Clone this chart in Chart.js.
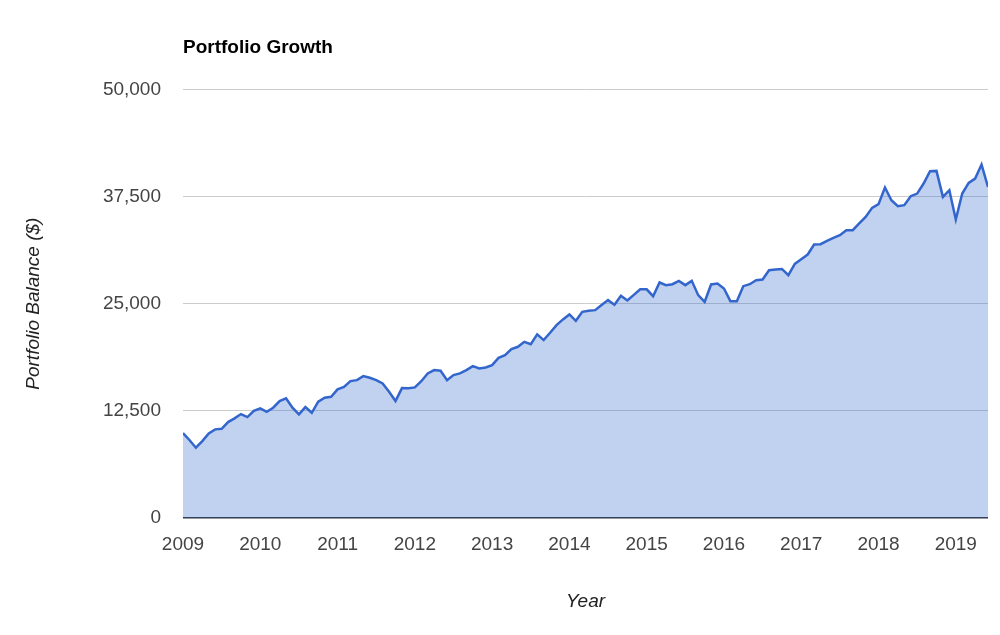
<!DOCTYPE html>
<html>
<head>
<meta charset="utf-8">
<script src="https://cdn.jsdelivr.net/npm/chart.js@4/dist/chart.umd.min.js"></script>
<style>
  html, body { margin: 0; padding: 0; background: #fff; }
  #wrap { width: 1000px; height: 635px; }
</style>
</head>
<body>
<div id="wrap"><canvas id="myChart" width="1000" height="635"></canvas></div>
<script>
// monthly portfolio balance, Jan 2009 .. Jun 2019
const startYear = 2009;
const balances = [
  9900, 9100, 8200, 8970, 9870, 10340, 10410, 11190, 11620, 12120, 11770, 12500,
  12790, 12390, 12860, 13640, 13950, 12860, 12090, 12940, 12270, 13560, 14020, 14140,
  15000, 15300, 15970, 16080, 16550, 16350, 16080, 15700, 14720, 13640, 15150, 15120,
  15230, 15950, 16860, 17250, 17170, 16080, 16670, 16860, 17250, 17720, 17450, 17560,
  17830, 18680, 19000, 19700, 19970, 20550, 20280, 21410, 20750, 21600, 22490, 23160,
  23740, 23000, 24040, 24160, 24240, 24830, 25410, 24870, 25930, 25370, 26030, 26670,
  26670, 25870, 27470, 27160, 27270, 27660, 27160, 27660, 25990, 25210, 27240, 27350,
  26770, 25290, 25290, 27040, 27270, 27740, 27820, 28900, 28980, 29050, 28320, 29640,
  30190, 30730, 31900, 31930, 32320, 32670, 32980, 33570, 33570, 34350, 35120, 36170,
  36600, 38540, 37060, 36360, 36480, 37530, 37840, 39010, 40440, 40480, 37450, 38230,
  34810, 37840, 39080, 39590, 41220, 38610
];
const yearTicks = [2009, 2010, 2011, 2012, 2013, 2014, 2015, 2016, 2017, 2018, 2019];
const balanceTicks = [0, 12500, 25000, 37500, 50000];

const points = balances.map((v, i) => ({ x: startYear + i / 12, y: v }));
const font = 'Arial, "Liberation Sans", sans-serif';

const ctx = document.getElementById('myChart');

new Chart(ctx, {
  type: 'line',
  data: {
    datasets: [{
      data: points,
      borderColor: '#3366cc',
      backgroundColor: 'rgba(51, 102, 204, 0.3)',
      borderWidth: 2.5,
      pointRadius: 0,
      tension: 0,
      fill: 'origin',
    }],
  },
  options: {
    responsive: false,
    animation: false,
    layout: { padding: { left: 10, right: 12, top: 0, bottom: 0 } },
    scales: {
      x: {
        type: 'linear',
        min: startYear,
        max: startYear + (balances.length - 1) / 12,
        afterBuildTicks: (scale) => { scale.ticks = yearTicks.map(v => ({ value: v })); },
        afterFit: (scale) => { scale.height = 117; },
        grid: { display: false, drawTicks: false },
        border: { display: false },
        ticks: {
          autoSkip: false,
          maxRotation: 0,
          padding: 15,
          color: '#444',
          font: { family: font, size: 19 },
          callback: (v) => String(v),
        },
        title: {
          display: true,
          text: 'Year',
          color: '#222',
          font: { family: font, size: 19, style: 'italic' },
          padding: { top: 0, bottom: 22 },
        },
      },
      y: {
        min: 0,
        max: 50000,
        afterBuildTicks: (scale) => { scale.ticks = balanceTicks.map(v => ({ value: v })); },
        afterFit: (scale) => { scale.width = 173; },
        grid: {
          drawTicks: false,
          color: (c) => c.tick && c.tick.value === 0 ? '#333' : '#cccccc',
          lineWidth: (c) => c.tick && c.tick.value === 0 ? 1.5 : 1,
        },
        border: { display: false },
        ticks: {
          padding: 22,
          color: '#444',
          font: { family: font, size: 19 },
          callback: (v) => v.toLocaleString('en-US'),
        },
        title: {
          display: true,
          text: 'Portfolio Balance ($)',
          color: '#222',
          font: { family: font, size: 19, style: 'italic' },
          padding: { top: 12, bottom: 0 },
        },
      },
    },
    plugins: {
      title: {
        display: true,
        text: 'Portfolio Growth',
        align: 'start',
        fullSize: false,
        color: '#000',
        font: { family: font, size: 19, weight: 'bold' },
        padding: { top: 36, bottom: 30.5 },
      },
      legend: { display: false },
      tooltip: { enabled: false },
    },
  },
});
</script>
</body>
</html>
